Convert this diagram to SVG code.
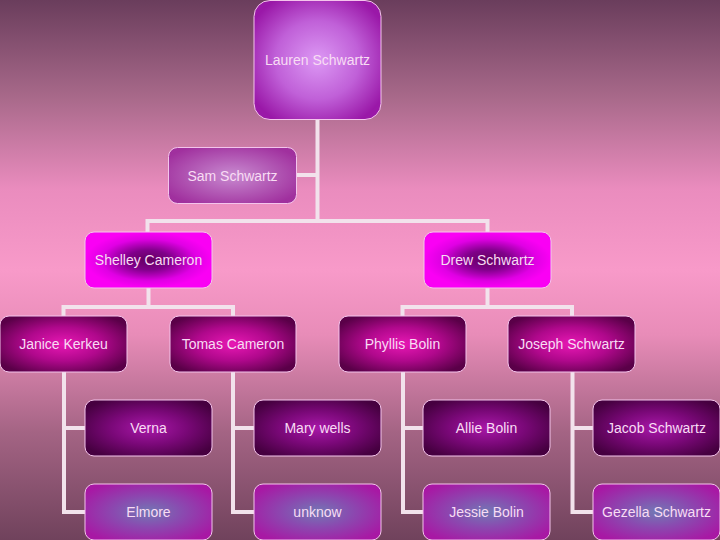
<svg xmlns="http://www.w3.org/2000/svg" width="720" height="540" viewBox="0 0 720 540">
<defs>
<linearGradient id="bg" x1="0" y1="0" x2="0" y2="1">
<stop offset="0" stop-color="#6a3d5c"/>
<stop offset="0.18" stop-color="#a8698a"/>
<stop offset="0.35" stop-color="#ea8cbe"/>
<stop offset="0.5" stop-color="#f89ac9"/>
<stop offset="0.62" stop-color="#e88cb8"/>
<stop offset="0.8" stop-color="#a46484"/>
<stop offset="1" stop-color="#70425c"/>
</linearGradient>
<radialGradient id="gTop" cx="0.5" cy="0.5" r="0.6">
<stop offset="0" stop-color="#dc98f4"/>
<stop offset="0.55" stop-color="#c060d8"/>
<stop offset="1" stop-color="#9a18a8"/>
</radialGradient>
<radialGradient id="gSam" cx="0.5" cy="0.5" r="0.6">
<stop offset="0" stop-color="#c88ad0"/>
<stop offset="1" stop-color="#a0309e"/>
</radialGradient>
<radialGradient id="gL2" cx="0.5" cy="0.5" r="0.5">
<stop offset="0" stop-color="#640060"/>
<stop offset="0.35" stop-color="#80008a"/>
<stop offset="0.75" stop-color="#e000e4"/>
<stop offset="1" stop-color="#fa00f4"/>
</radialGradient>
<radialGradient id="gL3" cx="0.5" cy="0.5" r="0.6">
<stop offset="0" stop-color="#e818b4"/>
<stop offset="0.5" stop-color="#b0088c"/>
<stop offset="1" stop-color="#5a0048"/>
</radialGradient>
<radialGradient id="gL4a" cx="0.5" cy="0.5" r="0.6">
<stop offset="0" stop-color="#a818a8"/>
<stop offset="0.5" stop-color="#7a0878"/>
<stop offset="1" stop-color="#460040"/>
</radialGradient>
<radialGradient id="gL4b" cx="0.5" cy="0.5" r="0.6">
<stop offset="0" stop-color="#7278b4"/>
<stop offset="0.45" stop-color="#8a4ab0"/>
<stop offset="1" stop-color="#a818a4"/>
</radialGradient>
</defs>
<style>
.conn{fill:none;stroke:#f2e2ec;stroke-width:4;}
.box{stroke:#f4c4ec;stroke-width:1;}
.t{font-family:"Liberation Sans",Arial,sans-serif;font-size:14px;fill:#f8dcf4;text-anchor:middle;dominant-baseline:central;}
</style>
<rect width="720" height="540" fill="url(#bg)"/>
<g id="connectors">
<path class="conn" d="M317.5 120V221M297 175H317.5M147.5 221H487.5M147.5 219V232M487.5 219V232"/>
<path class="conn" d="M148.5 288V307M63.5 307H233M63.5 305V316M233 305V316"/>
<path class="conn" d="M487.5 288V307M402.5 307H572M402.5 305V316M572 305V316"/>
<path class="conn" d="M64 372V512H85M64 428H85"/>
<path class="conn" d="M233 372V512H254M233 428H254"/>
<path class="conn" d="M403 372V512H423M403 428H423"/>
<path class="conn" d="M572.5 372V512H593M572.5 428H593"/>
</g>
<g id="n-lauren"><rect class="box" x="254" y="0.5" width="127" height="119" rx="16" fill="url(#gTop)"/><text class="t" x="317.5" y="60">Lauren Schwartz</text></g>
<g id="n-sam"><rect class="box" x="168.5" y="147.5" width="128" height="56" rx="9" fill="url(#gSam)"/><text class="t" x="232.5" y="176">Sam Schwartz</text></g>
<g id="n-shelley"><rect class="box" x="85" y="232" width="127" height="56" rx="9" fill="url(#gL2)"/><text class="t" x="148.5" y="260">Shelley Cameron</text></g>
<g id="n-drew"><rect class="box" x="424" y="232" width="127" height="56" rx="9" fill="url(#gL2)"/><text class="t" x="487.5" y="260">Drew Schwartz</text></g>
<g id="n-janice"><rect class="box" x="0" y="316" width="127" height="56" rx="9" fill="url(#gL3)"/><text class="t" x="63.5" y="344">Janice Kerkeu</text></g>
<g id="n-tomas"><rect class="box" x="170" y="316" width="126" height="56" rx="9" fill="url(#gL3)"/><text class="t" x="233" y="344">Tomas Cameron</text></g>
<g id="n-phyllis"><rect class="box" x="339" y="316" width="127" height="56" rx="9" fill="url(#gL3)"/><text class="t" x="402.5" y="344">Phyllis Bolin</text></g>
<g id="n-joseph"><rect class="box" x="508" y="316" width="127" height="56" rx="9" fill="url(#gL3)"/><text class="t" x="571.5" y="344">Joseph Schwartz</text></g>
<g id="n-verna"><rect class="box" x="85" y="400" width="127" height="56" rx="9" fill="url(#gL4a)"/><text class="t" x="148.5" y="428">Verna</text></g>
<g id="n-mary"><rect class="box" x="254" y="400" width="127" height="56" rx="9" fill="url(#gL4a)"/><text class="t" x="317.5" y="428">Mary wells</text></g>
<g id="n-allie"><rect class="box" x="423" y="400" width="127" height="56" rx="9" fill="url(#gL4a)"/><text class="t" x="486.5" y="428">Allie Bolin</text></g>
<g id="n-jacob"><rect class="box" x="593" y="400" width="127" height="56" rx="9" fill="url(#gL4a)"/><text class="t" x="656.5" y="428">Jacob Schwartz</text></g>
<g id="n-elmore"><rect class="box" x="85" y="484" width="127" height="56" rx="9" fill="url(#gL4b)"/><text class="t" x="148.5" y="512">Elmore</text></g>
<g id="n-unknow"><rect class="box" x="254" y="484" width="127" height="56" rx="9" fill="url(#gL4b)"/><text class="t" x="317.5" y="512">unknow</text></g>
<g id="n-jessie"><rect class="box" x="423" y="484" width="127" height="56" rx="9" fill="url(#gL4b)"/><text class="t" x="486.5" y="512">Jessie Bolin</text></g>
<g id="n-gezella"><rect class="box" x="593" y="484" width="127" height="56" rx="9" fill="url(#gL4b)"/><text class="t" x="656.5" y="512">Gezella Schwartz</text></g>
</svg>
